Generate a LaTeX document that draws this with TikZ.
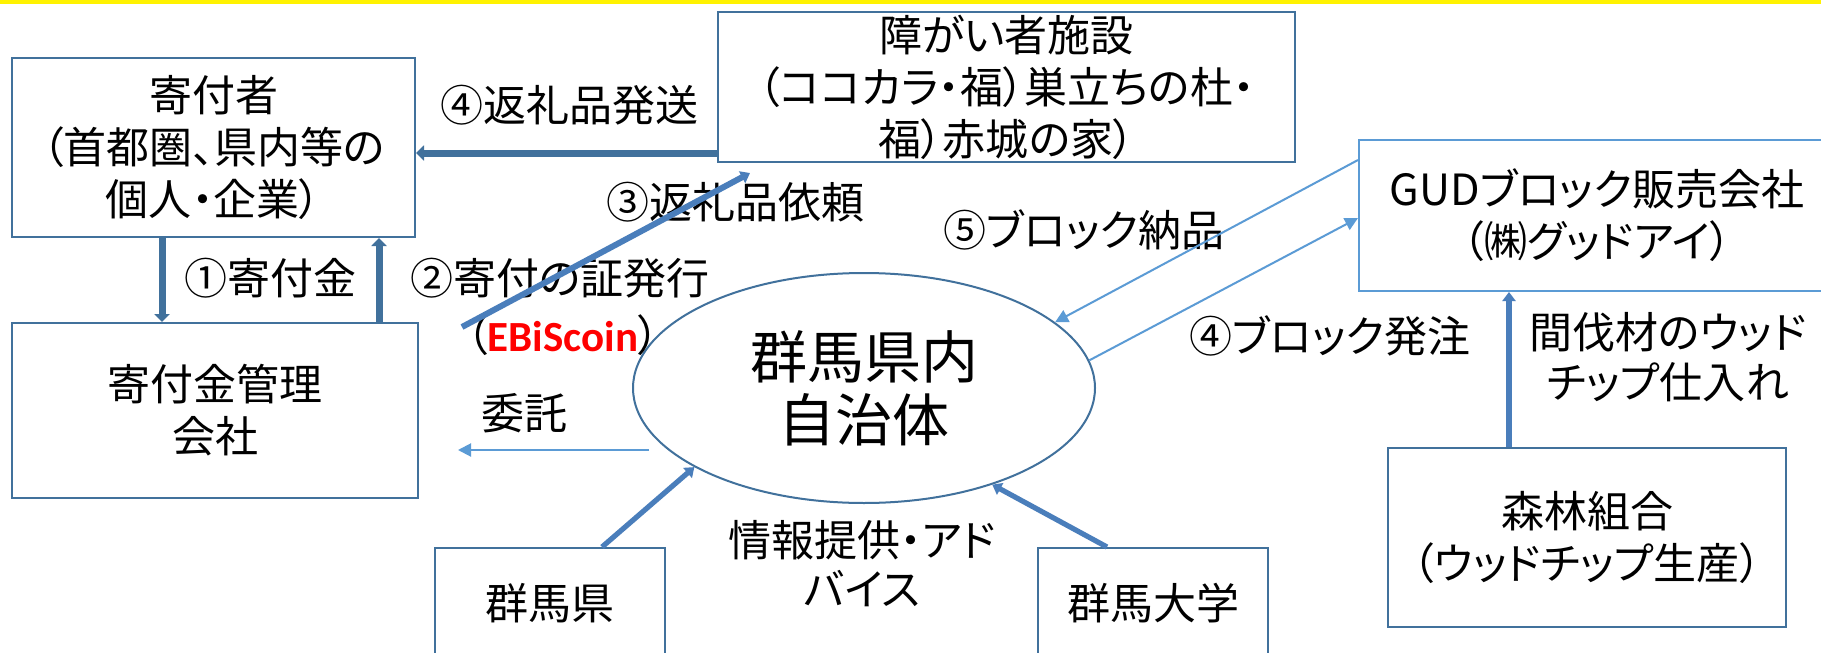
\documentclass[tikz,border=0pt]{standalone}
\usepackage{fontspec}
\usetikzlibrary{arrows.meta,shapes.geometric}
\newfontfamily\jp{Noto Sans CJK JP}[RawFeature=+palt]
\newfontfamily\cali{Carlito}
\definecolor{cbox}{HTML}{41719C}
\definecolor{cgud}{HTML}{5B9BD5}
\definecolor{cdark}{HTML}{41719C}
\definecolor{cmed}{HTML}{4A7EBB}
\definecolor{clight}{HTML}{5B9BD5}
\definecolor{ebired}{HTML}{FF0000}
\begin{document}
\begin{tikzpicture}[x=0.5pt,y=-0.5pt,
  box/.style={draw=cbox, line width=1pt, rectangle, inner sep=0pt, align=center,
    font=\jp\fontsize{21.5pt}{26pt}\selectfont},
  lbl/.style={inner sep=0pt, align=center, font=\jp\fontsize{21.5pt}{24.5pt}\selectfont},
  heavy/.style={draw=cdark, line width=3.5pt, -{Triangle[width=7.5pt,length=4pt]}},
  medium/.style={draw=cmed, line width=2.6pt, -{Triangle[width=6.5pt,length=4.5pt]}},
  light/.style={draw=clight, line width=1pt, -{Triangle[width=6.5pt,length=6.5pt]}}]
\useasboundingbox (0,0) rectangle (1821,653);
\clip (0,0) rectangle (1821,653);
\fill[white] (0,0) rectangle (1821,653);
\fill[yellow] (0,0) rectangle (1821,4);

% boxes
\node[box, minimum width=201.5pt, minimum height=89.5pt] (donor) at (213.5,147.5) {寄付者\\（首都圏、県内等の\\個人・企業）};
\node[box, minimum width=203pt, minimum height=87.5pt] (mgmt) at (215,410.5) {寄付金管理\\会社};
\node[box, minimum width=288.5pt, minimum height=75pt] (fac) at (1006.5,87) {障がい者施設\\（ココカラ・福）巣立ちの杜・\\福）赤城の家）};
\node[box, draw=cgud, minimum width=238pt, minimum height=75.5pt] (gud) at (1597,215.5) {GUDブロック販売会社\\（㈱グッドアイ）};
\node[box, minimum width=199pt, minimum height=89.5pt] (forest) at (1587,537.5) {森林組合\\（ウッドチップ生産）};
\node[box, minimum width=115pt, minimum height=55pt] (pref) at (550,603) {群馬県};
\node[box, minimum width=115pt, minimum height=55pt] (univ) at (1153,603) {群馬大学};
\node[ellipse, draw=cbox, line width=1pt, minimum width=231pt, minimum height=115pt, inner sep=0pt,
  align=center, font=\jp\fontsize{28.5pt}{31.5pt}\selectfont] (muni) at (864,388) {群馬県内\\自治体};

% labels
\node[lbl] (l4) at (569,105) {④返礼品発送};
\node[lbl] (l3) at (735,202) {③返礼品依頼};
\node[lbl] (l1) at (270,278) {①寄付金};
\node[lbl] (l2) at (560,278) {②寄付の証発行};
\node[lbl] (lebi) at (563,335) {（{\cali\bfseries\color{ebired}EBiScoin}）};
\node[lbl] (litaku) at (524,413) {委託};
\node[lbl] (l5) at (1084,230) {⑤ブロック納品};
\node[lbl] (l4b) at (1330,336) {④ブロック発注};
\node[lbl, font=\jp\fontsize{21.5pt}{25pt}\selectfont] (lkan) at (1668,357) {間伐材のウッド\\チップ仕入れ};
\node[lbl] (linfo) at (862,564) {情報提供・アド\\バイス};

% connectors
\draw[heavy] ([xshift=75.5pt]donor.south west) -- ([xshift=75.5pt]mgmt.north west);
\draw[heavy] ([xshift=184pt]mgmt.north west) -- ([xshift=184pt]donor.south west);
\draw[heavy] ([yshift=-33pt]fac.west) -- ([yshift=-33pt]fac.west -| donor.east);
\coordinate (r3s) at (462,327);
\coordinate (r3e) at (750,173);
\draw[medium, draw=cmed, line width=3pt] (r3s) -- (r3e);
\draw[light] ([yshift=27.75pt]gud.west) -- (muni.19);
\draw[light] (muni.7) -- ([yshift=-1.25pt]gud.west);
\coordinate (w1) at (649,450);
\coordinate (w2) at (458,450);
\draw[light] (w1) -- (w2);
\draw[medium] ([xshift=26pt]pref.north) -- (muni.205);
\draw[medium] ([xshift=-23pt]univ.north) -- (muni.323);
\draw[medium] ([xshift=-39pt]forest.north) -- ([xshift=-39pt]forest.north |- gud.south);
\end{tikzpicture}
\end{document}
